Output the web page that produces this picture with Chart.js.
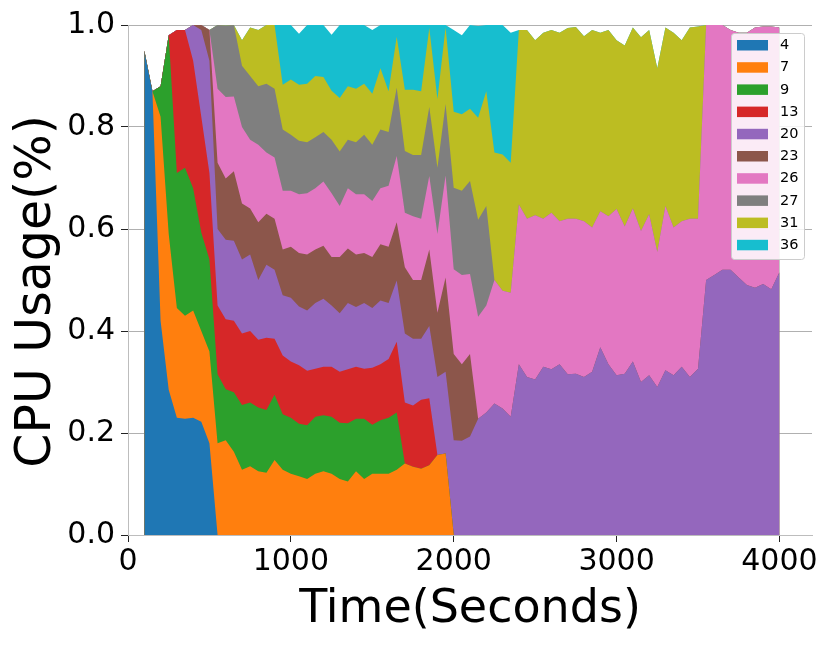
<!DOCTYPE html>
<html>
<head>
<meta charset="utf-8">
<title>CPU Usage</title>
<script src="https://cdn.jsdelivr.net/npm/chart.js@4.4.1/dist/chart.umd.min.js"></script>
<style>
  html, body { margin: 0; padding: 0; background: #fff; }
  canvas { display: block; }
</style>
</head>
<body>
<canvas id="grafico" width="831" height="645"></canvas>
<script>
// sample times in seconds (one sample every 50 s)
const times = [];
for (let t = 100; t <= 4000; t += 50) times.push(t);

const seriesNames = ['4', '7', '9', '13', '20', '23', '26', '27', '31', '36'];
const seriesColors = ['#1f77b4', '#ff7f0e', '#2ca02c', '#d62728', '#9467bd',
                      '#8c564b', '#e377c2', '#7f7f7f', '#bcbd22', '#17becf'];
// time of the first sample of each series, zero outside its values
const seriesStart = [100, 200, 200, 300, 400, 450, 550, 550, 700, 950];

const cpu4 = [0.95, 0.87, 0.42, 0.285, 0.23, 0.228, 0.23, 0.222, 0.18];
const cpu7 = [0.40, 0.305, 0.215, 0.202, 0.21, 0.178, 0.18, 0.18, 0.186, 0.163,
              0.128, 0.135, 0.125, 0.122, 0.147, 0.128, 0.12, 0.115, 0.11, 0.12,
              0.125, 0.12, 0.11, 0.105, 0.125, 0.11, 0.12, 0.12, 0.12, 0.128,
              0.14, 0.134, 0.13, 0.137, 0.157, 0.16];
const cpu9 = [0.06, 0.39, 0.265, 0.29, 0.24, 0.193, 0.18, 0.135, 0.10, 0.117,
              0.127, 0.125, 0.125, 0.123, 0.128, 0.109, 0.11, 0.103, 0.105, 0.112,
              0.11, 0.112, 0.11, 0.114, 0.103, 0.118, 0.096, 0.105, 0.11, 0.112];
const cpu13 = [0.28, 0.27, 0.25, 0.227, 0.17, 0.135, 0.137, 0.14, 0.14, 0.14,
               0.133, 0.142, 0.11, 0.115, 0.11, 0.115, 0.107, 0.094, 0.095, 0.098,
               0.10, 0.106, 0.102, 0.098, 0.112, 0.11, 0.115, 0.139, 0.12, 0.12,
               0.135, 0.131];
const cpu20 = [0.07, 0.17, 0.22, 0.15, 0.156, 0.157, 0.145, 0.15, 0.117, 0.143,
               0.135, 0.118, 0.125, 0.115, 0.118, 0.129, 0.133, 0.12, 0.115, 0.13,
               0.117, 0.129, 0.117, 0.125, 0.11, 0.12, 0.135, 0.131, 0.12, 0.142,
               0.153, 0.16, 0.186, 0.185, 0.193, 0.228, 0.24, 0.258, 0.248, 0.232,
               0.335, 0.31, 0.305, 0.33, 0.325, 0.335, 0.315, 0.316, 0.31, 0.32,
               0.368, 0.335, 0.313, 0.316, 0.34, 0.30, 0.313, 0.29, 0.323, 0.313,
               0.33, 0.31, 0.326, 0.50, 0.51, 0.52, 0.52, 0.505, 0.49, 0.485,
               0.492, 0.482, 0.515];
const cpu23 = [0.01, 0.06, 0.13, 0.12, 0.136, 0.11, 0.09, 0.113, 0.10, 0.10,
               0.09, 0.10, 0.105, 0.11, 0.105, 0.104, 0.095, 0.11, 0.107, 0.103,
               0.098, 0.10, 0.11, 0.11, 0.114, 0.13, 0.115, 0.115, 0.15, 0.126,
               0.185, 0.169, 0.15, 0.162];
const cpu26 = [0.145, 0.16, 0.147, 0.15, 0.135, 0.152, 0.12, 0.12, 0.115, 0.11,
               0.115, 0.12, 0.12, 0.126, 0.125, 0.10, 0.118, 0.118, 0.115, 0.11,
               0.11, 0.12, 0.13, 0.107, 0.125, 0.12, 0.144, 0.154, 0.20, 0.166,
               0.175, 0.157, 0.20, 0.21, 0.242, 0.231, 0.243, 0.313, 0.31, 0.322,
               0.29, 0.307, 0.28, 0.305, 0.304, 0.305, 0.283, 0.267, 0.29, 0.326,
               0.289, 0.30, 0.296, 0.316, 0.265, 0.322, 0.29, 0.285, 0.31, 0.294,
               0.50, 0.49, 0.48, 0.47, 0.48, 0.495, 0.51, 0.505, 0.515, 0.48];
const cpu27 = [0.125, 0.14, 0.14, 0.12, 0.125, 0.115, 0.135, 0.135, 0.12, 0.11,
               0.105, 0.10, 0.10, 0.097, 0.105, 0.107, 0.095, 0.102, 0.117, 0.11,
               0.115, 0.105, 0.134, 0.121, 0.12, 0.125, 0.135, 0.13, 0.14, 0.16,
               0.165, 0.182, 0.19, 0.195];
const cpu31 = [0.05, 0.095, 0.11, 0.115, 0.125, 0.088, 0.108, 0.11, 0.115, 0.12,
               0.108, 0.096, 0.105, 0.105, 0.105, 0.10, 0.10, 0.12, 0.08, 0.10,
               0.12, 0.128, 0.125, 0.155, 0.135, 0.15, 0.149, 0.15, 0.142, 0.20,
               0.225, 0.25, 0.267, 0.255, 0.342, 0.37, 0.343, 0.365, 0.358, 0.37,
               0.374, 0.376, 0.363, 0.387, 0.35, 0.365, 0.331, 0.355, 0.355, 0.38,
               0.361, 0.36, 0.35, 0.382, 0.355, 0.375, 0.377];
const cpu36 = [0.117, 0.107, 0.10, 0.115, 0.10, 0.102, 0.11, 0.143, 0.12, 0.125,
               0.115, 0.125, 0.085, 0.13, 0.023, 0.127, 0.127, 0.13, 0.006, 0.145,
               0.005, 0.16, 0.155, 0.164, 0.18, 0.13, 0.25, 0.254, 0.255];

const seriesValues = [cpu4, cpu7, cpu9, cpu13, cpu20, cpu23, cpu26, cpu27, cpu31, cpu36];

const xTicks = [0, 1000, 2000, 3000, 4000];
const yTicks = [0, 0.2, 0.4, 0.6, 0.8, 1.0];

// put a series on the whole time grid
function fullSeries(start, values) {
    const offset = times.indexOf(start);
    return times.map((t, i) => (i >= offset && i < offset + values.length) ? values[i - offset] : 0);
}

const fullData = seriesValues.map((vals, k) => fullSeries(seriesStart[k], vals));

// every layer is filled down to zero; Chart.js paints the last dataset first,
// so the lower layers cover the upper ones and no seams show between them
const datasets = fullData.map((vals, k) => ({
    label: seriesNames[k],
    data: times.map((t, i) => ({ x: t, y: vals[i] })),
    backgroundColor: seriesColors[k],
    borderColor: seriesColors[k],
    borderWidth: 0,
    fill: 'origin',
    pointRadius: 0,
    tension: 0
}));

const tickFont = { family: "'DejaVu Sans'", size: 30 };

// axis titles + legend box inside the plot
const extras = {
    id: 'extras',
    afterDraw(chart) {
        const ctx = chart.ctx;
        const area = chart.chartArea;
        ctx.save();
        ctx.fillStyle = '#000';
        ctx.textAlign = 'center';
        ctx.textBaseline = 'alphabetic';
        ctx.font = "46px 'DejaVu Sans'";
        ctx.fillText('Time(Seconds)', (area.left + area.right) / 2, 622);
        ctx.translate(49.5, 291.5);
        ctx.rotate(-Math.PI / 2);
        ctx.font = "49px 'DejaVu Sans'";
        ctx.fillText('CPU Usage(%)', 0, 0);
        ctx.restore();

        ctx.save();
        ctx.fillStyle = 'rgba(255,255,255,0.85)';
        ctx.strokeStyle = '#cccccc';
        ctx.lineWidth = 1;
        ctx.beginPath();
        ctx.roundRect(731.5, 33.5, 73, 226, 3);
        ctx.fill();
        ctx.stroke();
        ctx.font = "14.5px 'DejaVu Sans'";
        ctx.textAlign = 'left';
        ctx.textBaseline = 'middle';
        seriesNames.forEach((name, k) => {
            const cy = 45 + k * 22.2;
            ctx.fillStyle = seriesColors[k];
            ctx.fillRect(737, cy - 5, 31, 10.5);
            ctx.fillStyle = '#000';
            ctx.fillText(name, 780, cy + 0.5);
        });
        ctx.restore();
    }
};

new Chart(document.getElementById('grafico'), {
    type: 'line',
    data: { datasets: datasets },
    options: {
        responsive: false,
        animation: false,
        layout: { padding: { left: 0, right: 19, top: 25, bottom: 0 } },
        plugins: {
            legend: { display: false },
            tooltip: { enabled: false }
        },
        scales: {
            x: {
                type: 'linear',
                min: 0,
                max: 4200,
                afterBuildTicks: s => { s.ticks = xTicks.map(v => ({ value: v })); },
                afterFit: s => { s.height = 110; },
                grid: { drawOnChartArea: false, drawTicks: true, tickLength: 7, tickColor: '#222' },
                border: { color: '#bdbdbd' },
                ticks: { font: tickFont, color: '#000', padding: 2, maxRotation: 0, callback: v => String(v) }
            },
            y: {
                stacked: true,
                min: 0,
                max: 1,
                afterBuildTicks: s => { s.ticks = yTicks.map(v => ({ value: v })); },
                afterFit: s => { s.width = 128; },
                grid: { color: '#b0b0b0', tickLength: 7, tickColor: '#222' },
                border: { color: '#bdbdbd' },
                ticks: { font: tickFont, color: '#000', padding: 6, callback: v => v.toFixed(1) }
            }
        }
    },
    plugins: [extras]
});
</script>
</body>
</html>
